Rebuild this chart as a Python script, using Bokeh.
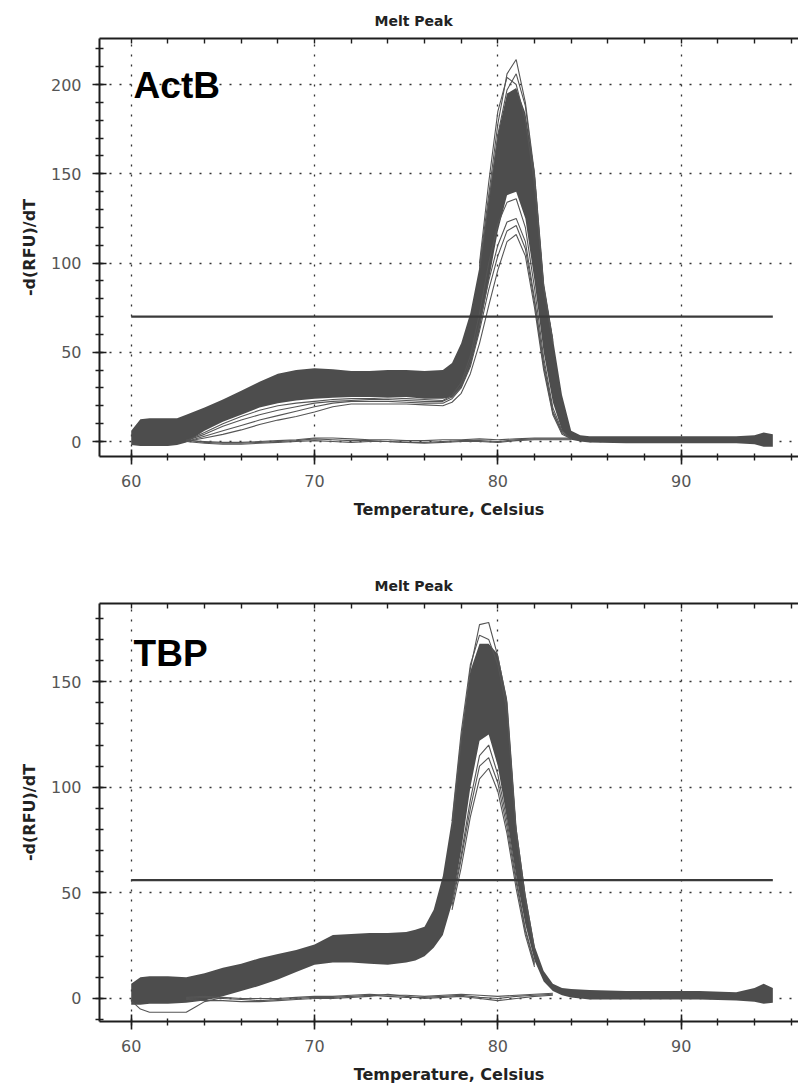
from bokeh.plotting import figure
from bokeh.models import LinearAxis, SingleIntervalTicker, FixedTicker, Label, Range1d
from bokeh.layouts import column
from bokeh.embed import file_html
from bokeh.resources import INLINE

# ---------------- data ----------------
TITLE = "Melt Peak"
X_LABEL = "Temperature, Celsius"
Y_LABEL = "-d(RFU)/dT"
PANELS = ["ActB", "TBP"]
THRESHOLDS = [70, 56]
THRESH_SPAN = [60, 95]
TOP_TICKS = [58, 60, 62, 64, 66, 68, 70, 72, 74, 76, 78, 80, 82, 84, 86, 88, 90, 92, 94, 96]

# ActB: dense band of curves (lower / upper envelope)
ACTB_T = [60, 60.5, 61, 62, 62.5, 63, 64, 65, 66, 67, 68, 69, 70, 71, 72, 73, 74, 75, 76, 77,
          77.5, 78, 78.5, 79, 79.5, 80, 80.5, 81, 81.5, 82, 82.5, 83, 83.5, 84, 84.5,
          85, 87, 89, 91, 93, 94, 94.5, 95]
ACTB_UPPER = [6, 12.5, 13, 13, 13, 15, 19, 23.5, 28.5, 33.5, 38, 40, 41, 40.5, 39.5, 39.5, 40, 40, 39.5, 40,
              44, 55, 72, 98, 135, 172, 195, 198, 184, 152, 88, 58, 26, 6, 3.5,
              3, 3, 3, 3, 3, 3.5, 5, 4]
ACTB_LOWER = [-2, -2.5, -2.5, -2.5, -2, -0.5, 6, 11, 15, 19, 21.5, 23, 24, 24.5, 25, 25, 25, 25, 24, 24,
              25, 30, 42, 62, 90, 118, 138, 140, 125, 90, 50, 22, 6, 1, 0,
              -0.5, -1, -1, -1, -1, -1.5, -3, -3]
# ActB: lower individual curves
ACTB_LOW_T = [63, 64, 65, 66, 67, 68, 69, 70, 71, 72, 73, 74, 75, 76, 77,
              77.5, 78, 78.5, 79, 79.5, 80, 80.5, 81, 81.5, 82, 82.5, 83, 83.5, 84]
ACTB_LOW_1 = [0, 2, 4, 6.5, 9.5, 12, 14, 16.5, 19.5, 21, 21, 21, 21, 20.5, 20,
              22, 27, 38, 55, 76, 96, 112, 116, 104, 75, 40, 15, 4, 1.5]
ACTB_LOW_2 = [0, 3, 6, 9, 12, 14.5, 17, 19.5, 21.5, 22.5, 22.5, 22.5, 22, 21.5, 21.5,
              24, 30, 42, 62, 85, 104, 118, 121, 108, 78, 42, 16, 5, 1.5]
ACTB_LOW_3 = [0.5, 4, 8.5, 12, 15, 17.5, 19.5, 21.5, 22.5, 23, 23.5, 23.5, 23, 22.5, 22.5,
              25, 31, 45, 66, 90, 110, 123, 125, 112, 80, 44, 17, 5, 1.5]
ACTB_LOW_4 = [0.5, 5, 10, 14, 17.5, 20, 21.5, 22.5, 23.5, 24, 24, 24.5, 24, 23.5, 23,
              26, 33, 48, 72, 100, 122, 134, 136, 120, 86, 47, 19, 6, 1.5]
# ActB: tallest individual peaks
ACTB_PEAK_T = [79, 79.5, 80, 80.5, 81, 81.5, 82, 82.5, 83]
ACTB_TOP_1 = [98, 138, 178, 206, 214, 190, 150, 88, 57]
ACTB_TOP_2 = [100, 145, 185, 204, 200, 180, 144, 86, 55]
ACTB_TOP_3 = [96, 134, 172, 197, 206, 188, 148, 87, 56]
# ActB: no-template controls
ACTB_NTC_T = [63, 64, 65, 66, 67, 68, 69, 70, 71, 72, 73, 74, 75, 76, 77, 78, 79, 80, 81, 82, 83, 84]
ACTB_NTC_1 = [1, -0.5, -1, -1, -0.5, 0, 0.5, 1.5, 1, 0.5, 0.5, 0, -0.5, -0.5, 0, 0.5, 0.5, 0, 1, 1.5, 1.5, 1.5]
ACTB_NTC_2 = [0.5, 0, -0.5, -0.5, 0, 0.5, 1, 2, 2, 1.5, 1, 1, 0.5, 0.5, 1, 1, 1.5, 1, 1.5, 2, 2, 2]
ACTB_NTC_3 = [0, -1, -1.5, -1.5, -1, -0.5, 0, 0.5, 0, -0.5, 0, 0, -0.5, -1, -0.5, 0, 0, -0.5, 0.5, 1, 1, 1]

# TBP: dense band
TBP_T = [60, 60.5, 61, 62, 63, 64, 65, 66, 67, 68, 69, 70, 71, 72, 73, 74, 75,
         75.5, 76, 76.5, 77, 77.5, 78, 78.5, 79, 79.5, 80, 80.5, 81, 81.5, 82, 82.5, 83, 83.5, 84,
         85, 87, 89, 91, 93, 94, 94.5, 95]
TBP_UPPER = [7, 10, 10.5, 10.5, 10, 12, 14.5, 16.5, 19, 21, 23, 25.5, 30, 30.5, 31, 31, 31.5,
             32.5, 34, 42, 58, 85, 125, 155, 168, 168, 163, 142, 82, 50, 25, 13, 7, 5, 4.5,
             4, 3.5, 3.5, 3.5, 3, 5, 7, 5]
TBP_LOWER = [-3, -3, -2.5, -2.5, -2, -1, 1, 3.5, 6, 9, 12.5, 16, 17, 17, 16.5, 16, 17,
             18, 20, 24, 30, 45, 70, 100, 122, 125, 110, 85, 58, 35, 18, 8, 3.5, 1.5, 0.5,
             -0.5, -0.5, -0.5, -0.5, -1, -1.5, -2.5, -2]
# TBP: individual peaks (low outliers and tallest)
TBP_PEAK_T = [77.5, 78, 78.5, 79, 79.5, 80, 80.5, 81, 81.5, 82]
TBP_LOW_1 = [42, 62, 86, 104, 109, 98, 78, 52, 30, 15]
TBP_LOW_2 = [44, 66, 90, 110, 114, 102, 81, 55, 32, 16]
TBP_LOW_3 = [46, 68, 94, 115, 120, 106, 84, 57, 33, 17]
TBP_TOP_1 = [80, 122, 156, 177, 178, 162, 140, 80, 48, 24]
TBP_TOP_2 = [84, 126, 158, 172, 170, 158, 136, 78, 46, 23]
# TBP: one low curve in the starting blob
TBP_BLOB_T = [60, 60.5, 61, 62, 63, 63.5, 64, 65]
TBP_BLOB_1 = [-1, -5, -6.5, -6.5, -6.5, -4, -1.5, 0.5]
# TBP: no-template controls
TBP_NTC_T = [63, 64, 65, 66, 67, 68, 69, 70, 71, 72, 73, 74, 75, 76, 77, 78, 79, 80, 81, 82, 83]
TBP_NTC_1 = [0, 0.5, 0, -0.5, -1, -0.5, 0, 0.5, 0.5, 1, 1.5, 1, 0.5, 0.5, 1, 1.5, 0.5, 0, 1, 1.5, 2]
TBP_NTC_2 = [-0.5, -1, -1, -1.5, -1.5, -1, -0.5, 0, 0, 0.5, 1, 2, 1, 0, 0.5, 1, 0, -1, 0, 1, 1.5]
TBP_NTC_3 = [0.5, 1, 0.5, 0, 0, 0, 0.5, 1, 1, 1.5, 2, 1.5, 1.5, 1, 1.5, 2, 1.5, 1, 1.5, 2, 2.5]

# ---------------- styling ----------------
BAND = "#4d4d4d"
LINE = "#555555"
AXIS = "#1e1e1e"
TICK_TXT = "#555555"
FONT = "DejaVu Sans"
BIG_FONT = "Liberation Sans"
X_RANGE = (58.27, 96.40)


def style_axes(p):
    xt = SingleIntervalTicker(interval=10, num_minor_ticks=5)
    yt = SingleIntervalTicker(interval=50, num_minor_ticks=5)
    for ax, tk in ((p.xaxis[0], xt), (p.yaxis[0], yt)):
        ax.ticker = tk
        ax.axis_line_width = 2
        ax.axis_line_color = AXIS
        ax.major_tick_line_color = AXIS
        ax.minor_tick_line_color = AXIS
        ax.major_tick_line_width = 1.6
        ax.minor_tick_line_width = 1.4
        ax.major_label_text_font = FONT
        ax.major_label_text_font_size = "16px"
        ax.major_label_text_color = TICK_TXT
        ax.axis_label_text_font = FONT
        ax.axis_label_text_font_size = "16px"
        ax.axis_label_text_font_style = "bold"
        ax.axis_label_text_color = "#222222"
    xa, ya = p.xaxis[0], p.yaxis[0]
    xa.axis_label = X_LABEL
    xa.major_tick_in, xa.major_tick_out = 7, 8
    xa.minor_tick_in, xa.minor_tick_out = 3, 4
    xa.major_label_standoff = 10
    xa.axis_label_standoff = 10
    ya.axis_label = Y_LABEL
    ya.major_tick_in, ya.major_tick_out = 7, 7
    ya.minor_tick_in, ya.minor_tick_out = 4, 4
    ya.major_label_standoff = 11
    ya.axis_label_standoff = 9
    # top frame line with inward ticks, no labels
    top = LinearAxis(ticker=FixedTicker(ticks=[], minor_ticks=TOP_TICKS))
    top.axis_line_width = 2
    top.axis_line_color = AXIS
    top.minor_tick_line_color = AXIS
    top.minor_tick_line_width = 1.4
    top.minor_tick_in, top.minor_tick_out = 5, 0
    top.major_tick_in, top.major_tick_out = 0, 0
    top.major_label_standoff = 0
    p.add_layout(top, "above")
    p.xgrid.ticker = xt
    p.ygrid.ticker = yt
    p.grid.grid_line_color = "#333333"
    p.grid.grid_line_width = 1.3
    p.grid.grid_line_dash = "2 8"


def make_fig(height, bottom, yr):
    p = figure(width=798, height=height, x_range=Range1d(*X_RANGE), y_range=Range1d(*yr),
               output_backend="svg", toolbar_location=None, title=TITLE,
               min_border_left=99, min_border_right=0, min_border_top=38,
               min_border_bottom=bottom)
    p.outline_line_color = None
    p.title.align = "left"
    p.title.offset = 275
    p.title.text_font = FONT
    p.title.text_font_size = "14px"
    p.title.text_font_style = "bold"
    p.title.text_color = "#222222"
    p.title.vertical_align = "top"
    p.title.standoff = 16
    style_axes(p)
    return p


def add_common(p, name, label_y, thr):
    p.line(THRESH_SPAN, [thr, thr], line_color="#3a3a3a", line_width=2.2)
    p.add_layout(Label(x=60.13, y=label_y, text=name, text_font=BIG_FONT,
                       text_font_size="37px", text_font_style="bold",
                       text_color="black", text_align="left", text_baseline="alphabetic"))


# ---------------- ActB ----------------
p1 = make_fig(565, 109, (-8.4, 225.8))
p1.varea(x=ACTB_T, y1=ACTB_LOWER, y2=ACTB_UPPER, fill_color=BAND)
for ys in (ACTB_NTC_1, ACTB_NTC_2, ACTB_NTC_3):
    p1.line(ACTB_NTC_T, ys, line_color=LINE, line_width=1.1)
for ys in (ACTB_LOW_1, ACTB_LOW_2, ACTB_LOW_3, ACTB_LOW_4):
    p1.line(ACTB_LOW_T, ys, line_color=LINE, line_width=1.1)
for ys in (ACTB_TOP_1, ACTB_TOP_2, ACTB_TOP_3):
    p1.line(ACTB_PEAK_T, ys, line_color=LINE, line_width=1.1)
add_common(p1, PANELS[0], 199.3, THRESHOLDS[0])

# ---------------- TBP ----------------
p2 = make_fig(527, 71, (-10.9, 187.0))
p2.varea(x=TBP_T, y1=TBP_LOWER, y2=TBP_UPPER, fill_color=BAND)
for ys in (TBP_NTC_1, TBP_NTC_2, TBP_NTC_3):
    p2.line(TBP_NTC_T, ys, line_color=LINE, line_width=1.1)
p2.line(TBP_BLOB_T, TBP_BLOB_1, line_color=LINE, line_width=1.1)
for ys in (TBP_LOW_1, TBP_LOW_2, TBP_LOW_3, TBP_TOP_1, TBP_TOP_2):
    p2.line(TBP_PEAK_T, ys, line_color=LINE, line_width=1.1)
add_common(p2, PANELS[1], 163.5, THRESHOLDS[1])

layout = column(p1, p2)
open("out.html", "w").write(file_html(layout, INLINE))
